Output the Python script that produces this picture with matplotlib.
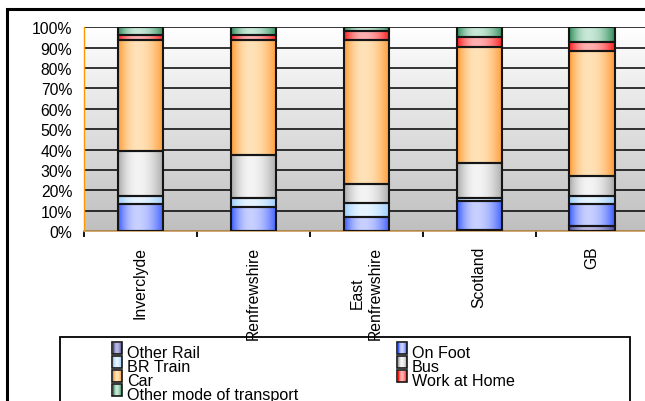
import numpy as np
import matplotlib
matplotlib.use("Agg")
import matplotlib.pyplot as plt
from matplotlib.patches import Rectangle
from matplotlib.colors import to_rgb

plt.rcParams['font.family'] = ['Liberation Sans', 'DejaVu Sans']

# Mode of travel to work, share of workers (%)
areas = ["Inverclyde", "Renfrewshire", "East\nRenfrewshire", "Scotland", "GB"]
modes = ["Other Rail", "On Foot", "BR Train", "Bus", "Car", "Work at Home",
         "Other mode of transport"]

other_rail = [0.2, 0.2, 0.2, 0.3, 2.4]
on_foot = [13.3, 11.5, 6.5, 14.3, 11.1]
br_train = [3.8, 4.5, 7.1, 1.8, 3.8]
bus = [21.9, 21.2, 9.4, 16.9, 9.9]
car = [54.8, 56.6, 70.8, 56.9, 61.0]
work_home = [2.0, 2.0, 4.0, 4.8, 4.8]
other_mode = [4.0, 4.0, 2.0, 5.0, 7.0]

series = [other_rail, on_foot, br_train, bus, car, work_home, other_mode]

# (edge shade, highlight shade) for the cylinder-style gradient fills
shades = [("#4b4b99", "#b8b8e0"),
          ("#3a5cff", "#c8d0ff"),
          ("#99ccff", "#e6f4ff"),
          ("#a8a8a8", "#f4f4f4"),
          ("#ff9a33", "#ffe2b8"),
          ("#ff1a1a", "#ffb0b0"),
          ("#2e8b57", "#c8e8d8")]

W, H = 645, 402
fig = plt.figure(figsize=(W / 100, H / 100), dpi=100)
fig.patch.set_facecolor("white")


def fx(x):
    return x / W


def fy(y):
    return 1 - y / H


def gradient_row(edge, light, n=64):
    t = np.linspace(0, 1, n)
    c = 0.42
    d = np.where(t < c, (c - t) / c, (t - c) / (1 - c))
    w = 1 - d ** 2
    e = np.array(to_rgb(edge))
    l = np.array(to_rgb(light))
    return (e[None, :] * (1 - w[:, None]) + l[None, :] * w[:, None])[None, :, :]


ax = fig.add_axes([fx(84), fy(232), fx(648.5) - fx(84), fy(28.3) - fy(232)])
ax.set_xlim(-0.5, len(areas) - 0.5)
ax.set_ylim(0, 100)

# Plot-area background: light at the top, grey at the bottom
bg = np.linspace(0.75, 1.0, 256)[:, None]
bg = np.repeat(bg, 3, axis=1)[:, None, :]
ax.imshow(bg, extent=[-0.5, len(areas) - 0.5, 0, 100], origin="lower",
          aspect="auto", zorder=0, interpolation="bilinear")

ax.set_yticks(np.arange(0, 101, 10))
ax.yaxis.grid(True, color="black", lw=1.1, zorder=1)
ax.set_axisbelow(True)

x = np.arange(len(areas))
bottom = np.zeros(len(areas))
for vals, (edge, light) in zip(series, shades):
    bars = ax.bar(x, vals, bottom=bottom, width=0.4, facecolor="none",
                  edgecolor="#151515", lw=1.5, zorder=4)
    for r in bars:
        x0, y0 = r.get_x(), r.get_y()
        ax.imshow(gradient_row(edge, light),
                  extent=[x0, x0 + r.get_width(), y0, y0 + r.get_height()],
                  aspect="auto", zorder=3, interpolation="bilinear")
    bottom += np.array(vals)

ax.set_xlim(-0.5, len(areas) - 0.5)
ax.set_ylim(0, 100)

ax.set_yticklabels([f"{v}%" for v in range(0, 101, 10)], fontsize=11.3)
ax.tick_params(axis="y", length=0, pad=8.5)

ax.set_xticks(x)
ax.set_xticklabels(areas, rotation=90, fontsize=11.3, va="top", ha="center",
                   multialignment="center")
ax.tick_params(axis="x", which="major", length=0, pad=10.5)
ax.set_xticks(np.arange(-0.5, len(areas)), minor=True)
ax.tick_params(axis="x", which="minor", length=4, width=1.3,
               color="black", direction="out")

for s in ["top", "right"]:
    ax.spines[s].set_visible(False)
ax.spines["left"].set_color("#ff9900")
ax.spines["left"].set_linewidth(1.0)
ax.spines["bottom"].set_color("#c89a5a")
ax.spines["bottom"].set_linewidth(1.2)

# Outer frame
fig.patches.append(Rectangle((fx(7), -0.1), 2, fy(10) + 0.1, fill=False,
                             lw=2.2, edgecolor="black",
                             transform=fig.transFigure, clip_on=False))

# Legend box
fig.patches.append(Rectangle((fx(60), -0.1), fx(630) - fx(60), fy(338) + 0.1,
                             fill=False, lw=1.3, edgecolor="black",
                             transform=fig.transFigure, clip_on=False))

# Legend entries laid out row by row in two columns
col_x = [112, 397]
row_top = 343
row_step = 14
for i, (name, (edge, light)) in enumerate(zip(modes, shades)):
    col = i % 2
    row = i // 2
    mx = col_x[col]
    my = row_top + row * row_step
    sw = np.repeat(gradient_row(edge, light, n=9), 11, axis=0)
    fig.figimage(sw, xo=mx + 1, yo=H - (my + 12), origin="upper", zorder=5)
    fig.patches.append(Rectangle((fx(mx), fy(my + 12)), fx(10), fy(0) - fy(12),
                                 fill=False, lw=1.2, edgecolor="#151515",
                                 transform=fig.transFigure, zorder=6))
    fig.text(fx(mx + 15), fy(my + 15), name, fontsize=11.6, va="baseline",
             ha="left", zorder=7)

fig.savefig("out.png", dpi=100)
